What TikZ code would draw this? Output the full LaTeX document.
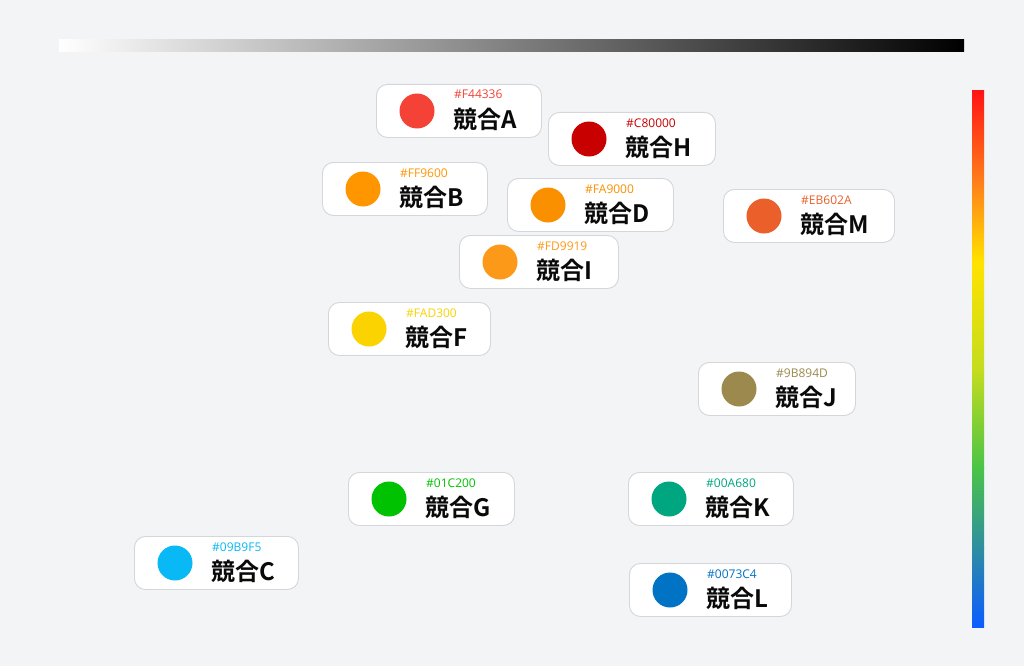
\documentclass[tikz,border=0pt]{standalone}
\usepackage{fontspec}
\setmainfont{Noto Sans CJK JP}
\newfontfamily\labfont{Noto Sans CJK JP Bold}
\newfontfamily\hexfont{Open Sans}
\definecolor{bg}{HTML}{F3F4F6}
\definecolor{cardborder}{HTML}{D4D6DA}
\definecolor{labcol}{HTML}{0A0A0A}
\definecolor{cA}{HTML}{F44336}
\definecolor{cH}{HTML}{C80000}
\definecolor{cB}{HTML}{FF9600}
\definecolor{cD}{HTML}{FA9000}
\definecolor{cM}{HTML}{EB602A}
\definecolor{cI}{HTML}{FD9919}
\definecolor{cF}{HTML}{FAD300}
\definecolor{cJ}{HTML}{9B894D}
\definecolor{cG}{HTML}{01C200}
\definecolor{cK}{HTML}{00A680}
\definecolor{cC}{HTML}{09B9F5}
\definecolor{cL}{HTML}{0073C4}
\definecolor{g0}{HTML}{FF1414}
\definecolor{g1}{HTML}{FF7F1A}
\definecolor{g2}{HTML}{FFE300}
\definecolor{g3}{HTML}{C4DC1E}
\definecolor{g4}{HTML}{4AC447}
\definecolor{g5}{HTML}{2F8EA0}
\definecolor{g6}{HTML}{0A5CFF}
\tikzset{
  card/.style={draw=cardborder, line width=0.9pt, fill=white, rounded corners=11pt,
    anchor=north west, minimum height=53pt, inner sep=0pt},
  dot/.style={circle, inner sep=0pt, minimum size=35pt},
  hexlab/.style={anchor=base west, inner sep=0pt, font=\hexfont\fontsize{12}{14}\selectfont},
  namelab/.style={anchor=base west, inner sep=0pt, text=labcol, font=\labfont\fontsize{24}{27}\selectfont},
}
\newcommand{\mkcard}[6]{%
  \node[card, minimum width=#4pt] (card#1) at (#2,#3) {};
  \node[dot, fill=c#1] (dot#1) at (#2+41,#3+27) {};
  \node[hexlab, text=c#1] (hex#1) at (#2+78,#3+15) {\##5};
  \node[namelab] (name#1) at (#2+77,#3+44.5) {競合#6};
}
\begin{document}
\begin{tikzpicture}[x=1pt,y=-1pt]
\fill[bg] (0,0) rectangle (1024,666);
\useasboundingbox (0,0) rectangle (1024,666);
% horizontal gray gradient
\shade[left color=white, right color=black] (59,40) rectangle (964,52);
% vertical rainbow
\shade[top color=g0, bottom color=g1] (972,91) rectangle (984,182.5);
\shade[top color=g1, bottom color=g2] (972,182) rectangle (984,262.5);
\shade[top color=g2, bottom color=g3] (972,262) rectangle (984,370.5);
\shade[top color=g3, bottom color=g4] (972,370) rectangle (984,468.5);
\shade[top color=g4, bottom color=g5] (972,468) rectangle (984,547.5);
\shade[top color=g5, bottom color=g6] (972,547) rectangle (984,627);
% cards
\mkcard{A}{376}{84}{165}{F44336}{A}
\mkcard{H}{548}{112}{167}{C80000}{H}
\mkcard{B}{322}{162}{165}{FF9600}{B}
\mkcard{D}{507}{178}{166}{FA9000}{D}
\mkcard{M}{723}{189}{171}{EB602A}{M}
\mkcard{I}{459}{235}{159}{FD9919}{I}
\mkcard{F}{328}{302}{162}{FAD300}{F}
\mkcard{J}{698}{362}{157}{9B894D}{J}
\mkcard{G}{348}{472}{166}{01C200}{G}
\mkcard{K}{628}{472}{165}{00A680}{K}
\mkcard{C}{134}{536}{164}{09B9F5}{C}
\mkcard{L}{629}{563}{162}{0073C4}{L}
\end{tikzpicture}
\end{document}
